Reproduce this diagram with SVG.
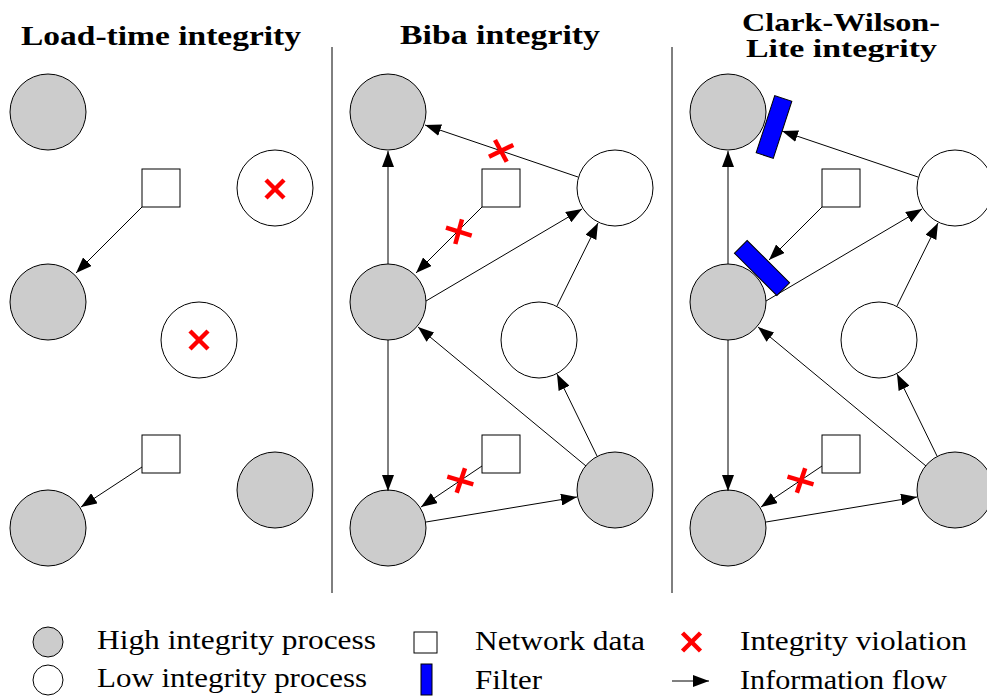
<svg xmlns="http://www.w3.org/2000/svg" width="987" height="697" viewBox="0 0 987 697">
  <defs>
    <marker id="arrow" markerUnits="userSpaceOnUse" markerWidth="16" markerHeight="12" refX="16" refY="6" orient="auto">
      <path d="M0,0 L16,6 L0,12 Z" fill="#000"/>
    </marker>
    <style>
      .hi { fill: #cccccc; stroke: #000; stroke-width: 1; }
      .lo { fill: #ffffff; stroke: #000; stroke-width: 1; }
      .data { fill: #ffffff; stroke: #000; stroke-width: 1; }
      .filter { fill: #0000ff; stroke: #000; stroke-width: 1; }
      .flow { stroke: #000; stroke-width: 1; fill: none; marker-end: url(#arrow); }
      .viol { stroke: #ff0000; stroke-width: 4.5; stroke-linecap: butt; fill: none; }
      .divider { stroke: #000; stroke-width: 1; }
      .title { font-weight: bold; font-size: 28px; fill: #000; }
      .title2 { font-weight: bold; font-size: 25px; fill: #000; }
      .legend { font-size: 27px; fill: #000; }
    </style>
    <g id="xmark">
      <line x1="-9" y1="-9" x2="9" y2="9"/>
      <line x1="-9" y1="9" x2="9" y2="-9"/>
    </g>
  </defs>
  <rect width="987" height="697" fill="#fff"/>

  <!-- panel titles -->
  <g id="titles" font-family="'Liberation Serif', 'Times New Roman', Tinos, 'DejaVu Serif', serif">
    <text class="title" x="21" y="45" textLength="280" lengthAdjust="spacingAndGlyphs">Load-time integrity</text>
    <text class="title" x="400" y="44" textLength="200" lengthAdjust="spacingAndGlyphs">Biba integrity</text>
    <text class="title2" x="742" y="31" textLength="198" lengthAdjust="spacingAndGlyphs">Clark-Wilson-</text>
    <text class="title2" x="746" y="57" textLength="191" lengthAdjust="spacingAndGlyphs">Lite integrity</text>
  </g>

  <!-- panel separators -->
  <g id="dividers">
    <line class="divider" x1="332" y1="47" x2="332" y2="593"/>
    <line class="divider" x1="672" y1="47" x2="672" y2="593"/>
  </g>

  <!-- Load-time integrity -->
  <g id="lt-hi-top"><circle class="hi" cx="48" cy="112" r="38"/></g>
  <g id="lt-data-top"><rect class="data" x="142" y="169" width="38" height="38"/></g>
  <g id="lt-lo-top">
    <circle class="lo" cx="275" cy="188" r="38"/>
    <use href="#xmark" class="viol" x="275" y="189"/>
  </g>
  <g id="lt-hi-mid"><circle class="hi" cx="48" cy="302" r="38"/></g>
  <g id="lt-lo-mid">
    <circle class="lo" cx="199" cy="340" r="38"/>
    <use href="#xmark" class="viol" x="199" y="340"/>
  </g>
  <g id="lt-data-bot"><rect class="data" x="142" y="435" width="38" height="38"/></g>
  <g id="lt-hi-bl"><circle class="hi" cx="48" cy="528" r="38"/></g>
  <g id="lt-hi-br"><circle class="hi" cx="275" cy="490" r="38"/></g>

  <!-- Biba integrity -->
  <g id="bi-hi-top"><circle class="hi" cx="388" cy="112" r="38"/></g>
  <g id="bi-lo-top"><circle class="lo" cx="615" cy="188" r="38"/></g>
  <g id="bi-data-top"><rect class="data" x="482" y="169" width="38" height="38"/></g>
  <g id="bi-hi-mid"><circle class="hi" cx="388" cy="302" r="38"/></g>
  <g id="bi-lo-mid"><circle class="lo" cx="539" cy="340" r="38"/></g>
  <g id="bi-data-bot"><rect class="data" x="482" y="435" width="38" height="38"/></g>
  <g id="bi-hi-bl"><circle class="hi" cx="388" cy="528" r="38"/></g>
  <g id="bi-hi-br"><circle class="hi" cx="615" cy="490" r="38"/></g>

  <!-- Clark-Wilson-Lite integrity -->
  <g id="cw-hi-top"><circle class="hi" cx="728" cy="112" r="38"/></g>
  <g id="cw-lo-top"><circle class="lo" cx="955" cy="188" r="38"/></g>
  <g id="cw-data-top"><rect class="data" x="822" y="169" width="38" height="38"/></g>
  <g id="cw-hi-mid"><circle class="hi" cx="728" cy="302" r="38"/></g>
  <g id="cw-lo-mid"><circle class="lo" cx="879" cy="340" r="38"/></g>
  <g id="cw-data-bot"><rect class="data" x="822" y="435" width="38" height="38"/></g>
  <g id="cw-hi-bl"><circle class="hi" cx="728" cy="528" r="38"/></g>
  <g id="cw-hi-br"><circle class="hi" cx="955" cy="490" r="38"/></g>

  <!-- information flows -->
  <g id="connectors">
    <line class="flow" x1="142" y1="207" x2="76" y2="273"/>
    <line class="flow" x1="142" y1="467" x2="81" y2="507"/>

    <line class="flow" x1="388" y1="264" x2="388" y2="151"/>
    <line class="flow" x1="578" y1="177" x2="425" y2="125"/>
    <line class="flow" x1="482" y1="207" x2="416" y2="273"/>
    <line class="flow" x1="426" y1="301" x2="582" y2="209"/>
    <line class="flow" x1="557" y1="306" x2="598" y2="223"/>
    <line class="flow" x1="586" y1="466" x2="418" y2="327"/>
    <line class="flow" x1="597" y1="456" x2="557" y2="374"/>
    <line class="flow" x1="388" y1="340" x2="388" y2="491"/>
    <line class="flow" x1="482" y1="466" x2="421" y2="507"/>
    <line class="flow" x1="426" y1="522" x2="577" y2="497"/>

    <line class="flow" x1="728" y1="264" x2="728" y2="151"/>
    <line class="flow" x1="918" y1="177" x2="782" y2="131"/>
    <line class="flow" x1="822" y1="207" x2="769" y2="260"/>
    <line class="flow" x1="766" y1="301" x2="922" y2="209"/>
    <line class="flow" x1="897" y1="306" x2="938" y2="223"/>
    <line class="flow" x1="926" y1="466" x2="758" y2="327"/>
    <line class="flow" x1="937" y1="456" x2="897" y2="374"/>
    <line class="flow" x1="728" y1="340" x2="728" y2="491"/>
    <line class="flow" x1="822" y1="466" x2="761" y2="507"/>
    <line class="flow" x1="766" y1="522" x2="917" y2="497"/>
  </g>

  <!-- blocked flows -->
  <g id="violations">
    <g class="viol">
      <line x1="489" y1="156.7" x2="513.3" y2="145"/>
      <line x1="495" y1="140" x2="506.7" y2="161.7"/>
    </g>
    <g class="viol">
      <line x1="446" y1="227.7" x2="471.7" y2="235.7"/>
      <line x1="462" y1="219.3" x2="455.3" y2="244"/>
    </g>
    <g class="viol">
      <line x1="447.3" y1="476.7" x2="473.3" y2="484.3"/>
      <line x1="465" y1="468.3" x2="456.7" y2="492.7"/>
    </g>
    <g class="viol">
      <line x1="787.5" y1="476.7" x2="813.5" y2="484.3"/>
      <line x1="805.2" y1="468.3" x2="796.9" y2="492.7"/>
    </g>
  </g>

  <!-- filters on the high integrity processes -->
  <g id="cw-filter-top"><rect class="filter" x="-9" y="-30" width="18" height="60" transform="translate(774 127) rotate(18)"/></g>
  <g id="cw-filter-mid"><rect class="filter" x="-30" y="-9" width="60" height="18" transform="translate(762 268) rotate(45)"/></g>

  <!-- legend -->
  <g id="legend" font-family="'Liberation Serif', 'Times New Roman', Tinos, 'DejaVu Serif', serif">
    <circle class="hi" cx="48" cy="642" r="15"/>
    <text class="legend" x="97" y="649" textLength="279" lengthAdjust="spacingAndGlyphs">High integrity process</text>
    <circle class="lo" cx="48" cy="680" r="15"/>
    <text class="legend" x="97" y="687" textLength="270" lengthAdjust="spacingAndGlyphs">Low integrity process</text>

    <rect class="data" x="414" y="632" width="23" height="21"/>
    <text class="legend" x="475" y="650" textLength="170" lengthAdjust="spacingAndGlyphs">Network data</text>
    <rect class="filter" x="421" y="664" width="11" height="31"/>
    <text class="legend" x="475" y="689" textLength="67" lengthAdjust="spacingAndGlyphs">Filter</text>

    <use href="#xmark" class="viol" x="691.5" y="642"/>
    <text class="legend" x="740" y="650" textLength="227" lengthAdjust="spacingAndGlyphs">Integrity violation</text>
    <line class="flow" x1="672" y1="681" x2="709" y2="681"/>
    <text class="legend" x="740" y="689" textLength="207" lengthAdjust="spacingAndGlyphs">Information flow</text>
  </g>
</svg>
